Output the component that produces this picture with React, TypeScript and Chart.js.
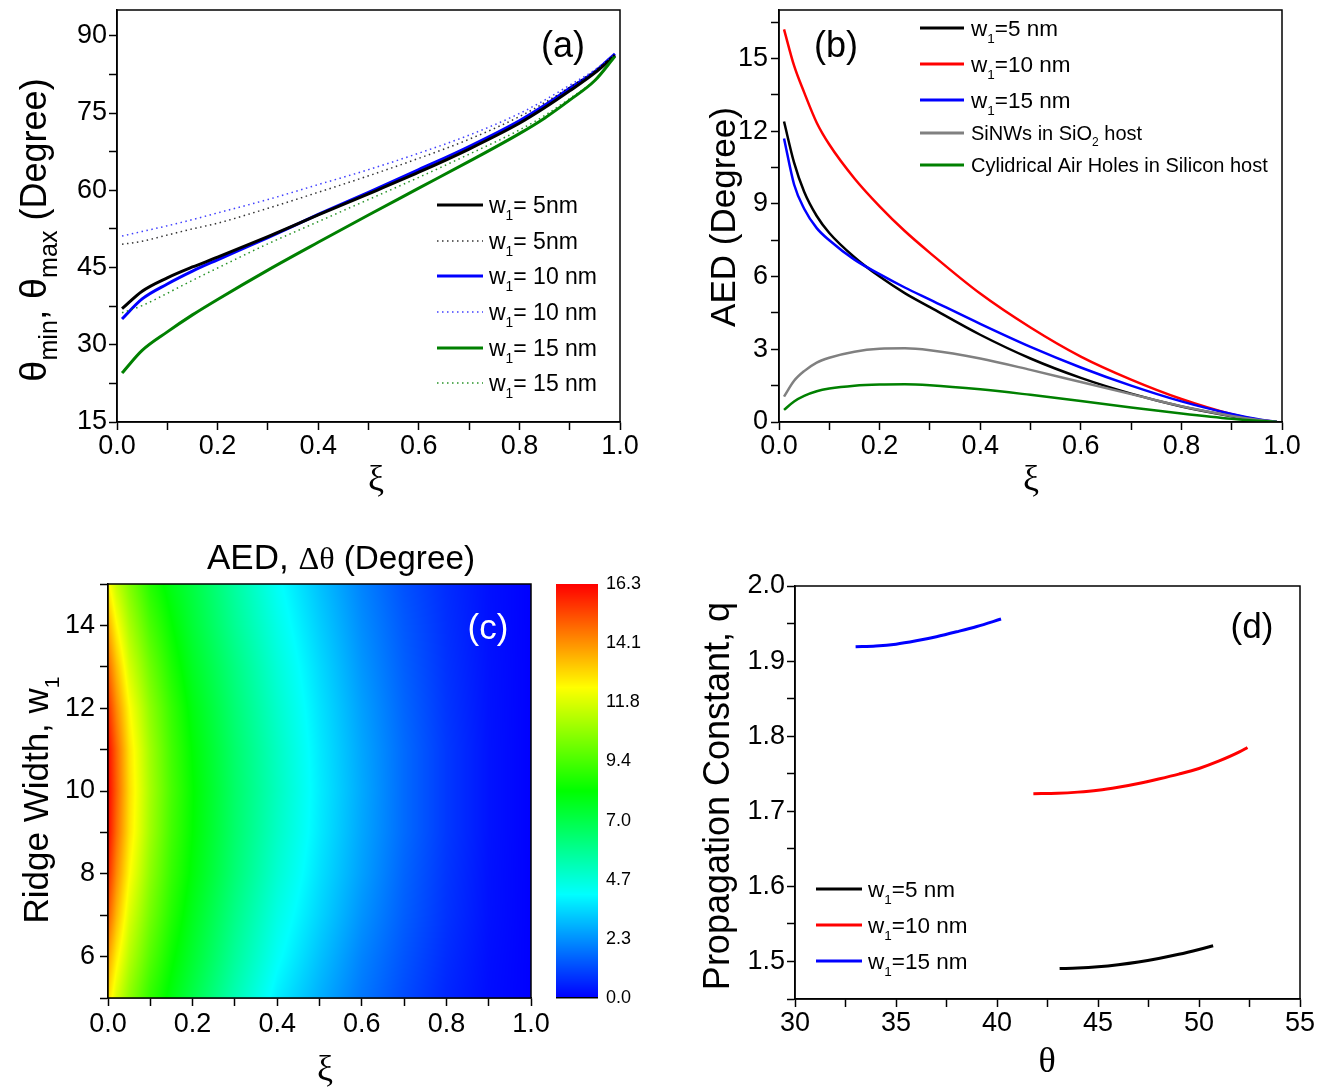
import React, { useEffect, useRef } from 'react';
import { Chart, registerables } from 'chart.js';

Chart.register(...registerables);

const SANS = '"Liberation Sans", Arial, Helvetica, sans-serif';
const SERIF = '"Liberation Serif", "Times New Roman", serif';

// ---------- (a) cut-off angles versus ξ ----------
const xiA = [0.01, 0.05, 0.1, 0.15, 0.2, 0.3, 0.4, 0.5, 0.6, 0.7, 0.8, 0.85, 0.9, 0.95, 0.99];
const thetaMinW5 = [37.0, 40.4, 43.0, 45.1, 47.0, 51.0, 55.2, 59.3, 63.5, 68.0, 73.0, 76.0, 79.3, 82.8, 86.2];
const thetaMaxW5 = [49.5, 50.1, 51.3, 52.5, 53.6, 56.5, 59.6, 62.8, 66.2, 69.9, 74.3, 77.0, 80.0, 83.2, 86.3];
const thetaMinW10 = [35.0, 38.9, 41.8, 44.3, 46.5, 50.8, 55.3, 59.6, 64.0, 68.5, 73.5, 76.5, 79.8, 83.0, 86.5];
const thetaMaxW10 = [51.1, 52.0, 53.1, 54.3, 55.6, 58.2, 61.1, 64.0, 67.2, 70.7, 74.9, 77.5, 80.4, 83.4, 86.5];
const thetaMinW15 = [24.5, 28.9, 32.5, 35.8, 38.8, 44.5, 49.9, 55.2, 60.4, 65.6, 71.0, 74.0, 77.5, 81.3, 86.0];
const thetaMaxW15 = [36.2, 37.6, 40.0, 42.5, 44.9, 49.6, 53.9, 58.2, 62.5, 67.0, 71.7, 74.5, 77.8, 81.4, 86.0];

// ---------- (b) angular extent versus ξ ----------
const xiB = [0.01, 0.03, 0.05, 0.075, 0.1, 0.15, 0.2, 0.25, 0.3, 0.4, 0.5, 0.6, 0.7, 0.8, 0.9, 0.95, 0.99];
const aedW5 = [12.4, 10.7, 9.5, 8.5, 7.8, 6.8, 6.0, 5.32, 4.74, 3.6, 2.62, 1.82, 1.17, 0.64, 0.24, 0.08, 0];
const aedW10 = [16.2, 14.7, 13.6, 12.35, 11.45, 10.05, 8.9, 7.88, 6.98, 5.3, 3.9, 2.7, 1.75, 0.95, 0.32, 0.1, 0];
const aedW15 = [11.7, 9.8, 8.8, 8.0, 7.5, 6.7, 6.1, 5.55, 5.05, 4.05, 3.1, 2.25, 1.5, 0.85, 0.33, 0.12, 0];
const aedSiNW = [1.05, 1.7, 2.1, 2.45, 2.65, 2.9, 3.02, 3.04, 2.96, 2.62, 2.15, 1.65, 1.15, 0.65, 0.25, 0.09, 0];
const aedAirHole = [0.5, 0.85, 1.08, 1.27, 1.38, 1.5, 1.55, 1.56, 1.52, 1.35, 1.12, 0.87, 0.6, 0.35, 0.13, 0.05, 0];

// ---------- (c) AED map over ξ and ridge width ----------
const mapXi = [0, 0.02, 0.05, 0.1, 0.15, 0.2, 0.3, 0.4, 0.5, 0.6, 0.7, 0.8, 0.9, 1.0];
const mapW = [5, 6, 7, 8, 9, 10, 11, 12, 13, 14, 15];
const mapAED = [
  [12.8, 11.6, 10.4, 8.9, 7.9, 7.0, 5.3, 3.8, 2.8, 1.9, 1.2, 0.6, 0.2, 0],
  [13.8, 12.5, 11.1, 9.5, 8.3, 7.4, 5.7, 4.2, 3.1, 2.1, 1.35, 0.7, 0.23, 0],
  [14.9, 13.4, 11.7, 10.0, 8.7, 7.7, 6.0, 4.5, 3.4, 2.35, 1.5, 0.8, 0.27, 0],
  [15.7, 14.1, 12.3, 10.4, 9.0, 8.0, 6.3, 4.8, 3.6, 2.55, 1.6, 0.85, 0.28, 0],
  [16.2, 14.6, 12.7, 10.7, 9.2, 8.15, 6.45, 5.0, 3.75, 2.65, 1.7, 0.9, 0.3, 0],
  [16.3, 14.8, 12.8, 10.8, 9.3, 8.2, 6.5, 5.1, 3.8, 2.7, 1.7, 0.9, 0.3, 0],
  [16.2, 14.7, 12.7, 10.7, 9.2, 8.1, 6.45, 5.05, 3.75, 2.65, 1.7, 0.9, 0.3, 0],
  [15.6, 14.1, 12.3, 10.4, 9.0, 7.9, 6.3, 4.9, 3.65, 2.55, 1.62, 0.85, 0.29, 0],
  [14.7, 13.3, 11.6, 9.9, 8.6, 7.6, 6.1, 4.7, 3.5, 2.4, 1.52, 0.8, 0.28, 0],
  [13.6, 12.3, 10.9, 9.3, 8.2, 7.3, 5.8, 4.45, 3.3, 2.25, 1.42, 0.75, 0.26, 0],
  [12.4, 11.3, 10.2, 8.7, 7.8, 7.1, 5.6, 4.2, 3.1, 2.1, 1.3, 0.7, 0.25, 0],
];
const barLabels = ['0.0', '2.3', '4.7', '7.0', '9.4', '11.8', '14.1', '16.3'];
const barMax = 16.3;
const paletteRGB = [
  [0, 0, 255],
  [0, 255, 255],
  [0, 255, 0],
  [255, 255, 0],
  [255, 0, 0],
];

// ---------- (d) propagation constant versus θ ----------
const thetaW5 = [43.1, 44, 45, 46, 47, 48, 49, 50, 50.7];
const qW5 = [1.4905, 1.4913, 1.493, 1.4957, 1.4993, 1.504, 1.5095, 1.516, 1.521];
const thetaW10 = [41.8, 43, 44, 45, 46, 47, 48, 49, 50, 51, 52, 52.4];
const qW10 = [1.7235, 1.724, 1.7255, 1.728, 1.732, 1.737, 1.743, 1.7495, 1.757, 1.767, 1.779, 1.785];
const thetaW15 = [33.0, 34, 35, 36, 37, 38, 39, 40.2];
const qW15 = [1.919, 1.92, 1.9225, 1.927, 1.9325, 1.939, 1.946, 1.956];

const BLACK = '#000000';
const RED = '#ff0000';
const BLUE = '#0000ff';
const GREEN = '#008000';
const GRAY = '#808080';
const TICK_SIZE = 27;

// ---------- text helpers ----------
type Seg = { t: string; sub?: boolean; serif?: boolean; scale?: number };

function segFont(s: Seg, size: number, subScale: number) {
  const sz = s.sub ? size * subScale : size * (s.scale ?? 1);
  return `${sz}px ${s.serif ? SERIF : SANS}`;
}

function richText(
  ctx: CanvasRenderingContext2D,
  segs: Seg[],
  x: number,
  y: number,
  size: number,
  align: 'left' | 'center' = 'left',
  subScale = 0.6
) {
  ctx.save();
  ctx.textAlign = 'left';
  ctx.textBaseline = 'alphabetic';
  const widths = segs.map((s) => {
    ctx.font = segFont(s, size, subScale);
    return ctx.measureText(s.t).width;
  });
  const total = widths.reduce((a, b) => a + b, 0);
  let cx = align === 'center' ? x - total / 2 : x;
  segs.forEach((s, i) => {
    ctx.font = segFont(s, size, subScale);
    ctx.fillText(s.t, cx, s.sub ? y + size * 0.3 : y);
    cx += widths[i];
  });
  ctx.restore();
}

function rotatedText(ctx: CanvasRenderingContext2D, segs: Seg[], baselineX: number, centerY: number, size: number, subScale = 0.6) {
  ctx.save();
  ctx.translate(baselineX, centerY);
  ctx.rotate(-Math.PI / 2);
  richText(ctx, segs, 0, 0, size, 'center', subScale);
  ctx.restore();
}

type LegendItem = { segs: Seg[]; color: string; width: number; dash?: number[]; size: number };

function drawLegend(ctx: CanvasRenderingContext2D, items: LegendItem[], x0: number, x1: number, tx: number, ys: number[]) {
  items.forEach((it, i) => {
    const y = ys[i];
    ctx.save();
    ctx.strokeStyle = it.color;
    ctx.lineWidth = it.width;
    ctx.setLineDash(it.dash ?? []);
    ctx.beginPath();
    ctx.moveTo(x0, y);
    ctx.lineTo(x1, y);
    ctx.stroke();
    ctx.restore();
    ctx.fillStyle = '#000';
    richText(ctx, it.segs, tx, y + it.size * 0.36, it.size);
  });
}

const w1 = (rest: string): Seg[] => [{ t: 'w' }, { t: '1', sub: true }, { t: rest }];

// ---------- chart helpers ----------
const pts = (xs: number[], ys: number[]) => xs.map((x, i) => ({ x, y: ys[i] }));

function lineSet(xs: number[], ys: number[], color: string, width: number, dash?: number[]) {
  return {
    data: pts(xs, ys),
    showLine: true,
    borderColor: color,
    backgroundColor: color,
    borderWidth: width,
    borderDash: dash ?? [],
    pointRadius: 0,
    cubicInterpolationMode: 'monotone' as const,
    fill: false,
  };
}

type AxisOpts = {
  min: number;
  max: number;
  step: number;
  every: number;
  digits: number;
  pad: number;
  fit: number;
  vertical: boolean;
  size?: number;
};

function linearAxis(o: AxisOpts) {
  return {
    type: 'linear' as const,
    position: o.vertical ? ('left' as const) : ('bottom' as const),
    min: o.min,
    max: o.max,
    afterFit: (s: any) => {
      if (o.vertical) s.width = o.fit;
      else s.height = o.fit;
      s.paddingTop = 0;
      s.paddingBottom = 0;
      s.paddingLeft = 0;
      s.paddingRight = 0;
    },
    ticks: {
      stepSize: o.step,
      autoSkip: false,
      maxRotation: 0,
      minRotation: 0,
      includeBounds: false,
      padding: o.pad,
      color: '#000',
      font: { family: SANS, size: o.size ?? TICK_SIZE, lineHeight: 1.2 },
      callback: (v: any) => {
        const k = Number(v) / o.every;
        return Math.abs(k - Math.round(k)) < 1e-6 ? Number(v).toFixed(o.digits) : '';
      },
    },
    grid: { display: true, drawOnChartArea: false, drawTicks: true, tickLength: 8, tickWidth: 1.5, tickColor: '#000' },
    border: { display: true, color: '#000', width: 1.5 },
  };
}

function overlay(id: string, draw: (ctx: CanvasRenderingContext2D, chart: any) => void) {
  return {
    id,
    afterDraw(chart: any) {
      const { ctx, chartArea: a } = chart;
      ctx.save();
      ctx.strokeStyle = '#000';
      ctx.lineWidth = 1.5;
      ctx.strokeRect(a.left, a.top, a.right - a.left, a.bottom - a.top);
      ctx.restore();
      draw(ctx, chart);
    },
  };
}

const baseOptions = (padding: any) => ({
  animation: false as const,
  responsive: false,
  maintainAspectRatio: false,
  events: [] as any[],
  layout: { padding },
  plugins: { legend: { display: false }, tooltip: { enabled: false } },
});

// ---------- (c) colour map ----------
function rainbow(v: number): number[] {
  const t = Math.max(0, Math.min(1, v / barMax)) * (paletteRGB.length - 1);
  const i = Math.min(Math.floor(t), paletteRGB.length - 2);
  const f = t - i;
  const a = paletteRGB[i];
  const b = paletteRGB[i + 1];
  return [a[0] + (b[0] - a[0]) * f, a[1] + (b[1] - a[1]) * f, a[2] + (b[2] - a[2]) * f];
}

function bracket(arr: number[], v: number) {
  let i = 0;
  while (i < arr.length - 2 && v > arr[i + 1]) i++;
  const t = Math.max(0, Math.min(1, (v - arr[i]) / (arr[i + 1] - arr[i])));
  return [i, t];
}

function mapValue(xi: number, w: number) {
  const [i, tx] = bracket(mapXi, xi);
  const [j, ty] = bracket(mapW, w);
  const a = mapAED[j][i] * (1 - tx) + mapAED[j][i + 1] * tx;
  const b = mapAED[j + 1][i] * (1 - tx) + mapAED[j + 1][i + 1] * tx;
  return a * (1 - ty) + b * ty;
}

const heatmapPlugin = {
  id: 'aedMap',
  beforeDatasetsDraw(chart: any) {
    const { ctx, chartArea: a, scales } = chart;
    const w = Math.round(a.right - a.left);
    const h = Math.round(a.bottom - a.top);
    const off = document.createElement('canvas');
    off.width = w;
    off.height = h;
    const octx = off.getContext('2d')!;
    const img = octx.createImageData(w, h);
    for (let py = 0; py < h; py++) {
      const wv = scales.y.getValueForPixel(a.top + py + 0.5);
      for (let px = 0; px < w; px++) {
        const xv = scales.x.getValueForPixel(a.left + px + 0.5);
        const c = rainbow(mapValue(xv, wv));
        const k = (py * w + px) * 4;
        img.data[k] = c[0];
        img.data[k + 1] = c[1];
        img.data[k + 2] = c[2];
        img.data[k + 3] = 255;
      }
    }
    octx.putImageData(img, 0, 0);
    ctx.drawImage(off, a.left, a.top);
  },
};

// ---------- configurations ----------
const DOT = [1.5, 3.5];
const DOT_BLACK = 'rgba(0,0,0,0.8)';
const DOT_BLUE = 'rgba(30,30,255,0.85)';
const DOT_GREEN = 'rgba(0,128,0,0.85)';

function configA(): any {
  return {
    type: 'scatter',
    data: {
      datasets: [
        lineSet(xiA, thetaMaxW5, DOT_BLACK, 1.5, DOT),
        lineSet(xiA, thetaMaxW10, DOT_BLUE, 1.5, DOT),
        lineSet(xiA, thetaMaxW15, DOT_GREEN, 1.5, DOT),
        lineSet(xiA, thetaMinW15, GREEN, 3),
        lineSet(xiA, thetaMinW5, BLACK, 3),
        lineSet(xiA, thetaMinW10, BLUE, 3),
      ],
    },
    options: {
      ...baseOptions({ left: 0, top: 10, right: 40, bottom: 0 }),
      scales: {
        x: linearAxis({ min: 0, max: 1, step: 0.1, every: 0.2, digits: 1, pad: 0, fit: 78, vertical: false }),
        y: linearAxis({ min: 15, max: 95, step: 7.5, every: 15, digits: 0, pad: 2, fit: 117, vertical: true }),
      },
    },
    plugins: [
      overlay('panelA', (ctx) => {
        ctx.fillStyle = '#000';
        rotatedText(
          ctx,
          [{ t: 'θ', scale: 1.05 }, { t: 'min', sub: true }, { t: ', θ', scale: 1.05 }, { t: 'max', sub: true }, { t: ' (Degree)' }],
          46,
          230,
          36,
          0.7
        );
        richText(ctx, [{ t: 'ξ', serif: true }], 376, 490, 36, 'center');
        richText(ctx, [{ t: '(a)' }], 563, 57, 36, 'center');
        drawLegend(
          ctx,
          [
            { segs: w1('= 5nm'), color: BLACK, width: 3, size: 23 },
            { segs: w1('= 5nm'), color: DOT_BLACK, width: 1.5, dash: DOT, size: 23 },
            { segs: w1('= 10 nm'), color: BLUE, width: 3, size: 23 },
            { segs: w1('= 10 nm'), color: DOT_BLUE, width: 1.5, dash: DOT, size: 23 },
            { segs: w1('= 15 nm'), color: GREEN, width: 3, size: 23 },
            { segs: w1('= 15 nm'), color: DOT_GREEN, width: 1.5, dash: DOT, size: 23 },
          ],
          437,
          483,
          489,
          [205, 241, 276, 312, 348, 383]
        );
      }),
    ],
  };
}

function configB(): any {
  return {
    type: 'scatter',
    data: {
      datasets: [
        lineSet(xiB, aedAirHole, GREEN, 2.5),
        lineSet(xiB, aedSiNW, GRAY, 2.5),
        lineSet(xiB, aedW15, BLUE, 2.5),
        lineSet(xiB, aedW10, RED, 2.5),
        lineSet(xiB, aedW5, BLACK, 2.5),
      ],
    },
    options: {
      ...baseOptions({ left: 0, top: 10, right: 43, bottom: 0 }),
      scales: {
        x: linearAxis({ min: 0, max: 1, step: 0.1, every: 0.2, digits: 1, pad: 0, fit: 78, vertical: false }),
        y: linearAxis({ min: 0, max: 17, step: 1.5, every: 3, digits: 0, pad: 3, fit: 119, vertical: true }),
      },
    },
    plugins: [
      overlay('panelB', (ctx) => {
        ctx.fillStyle = '#000';
        rotatedText(ctx, [{ t: 'AED (Degree)' }], 75, 217, 35);
        richText(ctx, [{ t: 'ξ', serif: true }], 371, 490, 36, 'center');
        richText(ctx, [{ t: '(b)' }], 176, 57, 36, 'center');
        drawLegend(
          ctx,
          [
            { segs: w1('=5 nm'), color: BLACK, width: 3, size: 22.5 },
            { segs: w1('=10 nm'), color: RED, width: 3, size: 22.5 },
            { segs: w1('=15 nm'), color: BLUE, width: 3, size: 22.5 },
            { segs: [{ t: 'SiNWs in SiO' }, { t: '2', sub: true }, { t: ' host' }], color: GRAY, width: 3, size: 20 },
            { segs: [{ t: 'Cylidrical Air Holes in Silicon host' }], color: GREEN, width: 3, size: 20 },
          ],
          260,
          304,
          311,
          [28, 64, 100, 133, 165]
        );
      }),
    ],
  };
}

function configC(): any {
  const n = barLabels.length - 1;
  return {
    type: 'scatter',
    data: { datasets: [{ data: [] as any[], pointRadius: 0 }] },
    options: {
      ...baseOptions({ left: 0, top: 64, right: 0, bottom: 0 }),
      scales: {
        x: linearAxis({ min: 0, max: 1, step: 0.1, every: 0.2, digits: 1, pad: 2, fit: 91, vertical: false }),
        y: linearAxis({ min: 5, max: 15, step: 1, every: 2, digits: 0, pad: 5, fit: 108, vertical: true }),
        cb: {
          type: 'linear',
          position: 'right',
          min: 0,
          max: barMax,
          afterBuildTicks: (s: any) => {
            s.ticks = barLabels.map((_, i) => ({ value: (i * barMax) / n }));
          },
          afterFit: (s: any) => {
            s.width = 129;
            s.paddingTop = 0;
            s.paddingBottom = 0;
          },
          ticks: {
            padding: 75,
            color: '#000',
            font: { family: SANS, size: 18 },
            callback: (_v: any, i: number) => barLabels[i],
          },
          grid: { display: false, drawTicks: false },
          border: { display: false },
        },
      },
    },
    plugins: [
      heatmapPlugin,
      overlay('panelC', (ctx, chart) => {
        const cb = chart.scales.cb;
        const top = Math.round(cb.getPixelForValue(barMax));
        const bottom = Math.round(cb.getPixelForValue(0));
        for (let y = top; y < bottom; y++) {
          const c = rainbow(cb.getValueForPixel(y + 0.5));
          ctx.fillStyle = `rgb(${c[0] | 0},${c[1] | 0},${c[2] | 0})`;
          ctx.fillRect(556, y, 42, 1);
        }
        ctx.fillStyle = '#000';
        ctx.fillRect(556, bottom - 1, 42, 1.5);

        ctx.fillStyle = '#000';
        richText(
          ctx,
          [{ t: 'AED, ' }, { t: 'Δθ', serif: true, scale: 0.92 }, { t: ' (Degree)', scale: 0.95 }],
          341,
          49,
          35,
          'center'
        );
        rotatedText(ctx, [{ t: 'Ridge Width, w' }, { t: '1', sub: true }], 48, 280, 35);
        richText(ctx, [{ t: 'ξ', serif: true }], 325, 560, 36, 'center');
        ctx.fillStyle = '#ffffff';
        richText(ctx, [{ t: '(c)' }], 488, 119, 35, 'center');
      }),
    ],
  };
}

function configD(): any {
  return {
    type: 'scatter',
    data: {
      datasets: [
        lineSet(thetaW5, qW5, BLACK, 3),
        lineSet(thetaW10, qW10, RED, 3),
        lineSet(thetaW15, qW15, BLUE, 3),
      ],
    },
    options: {
      ...baseOptions({ left: 0, top: 66, right: 25, bottom: 0 }),
      scales: {
        x: linearAxis({ min: 30, max: 55, step: 2.5, every: 5, digits: 0, pad: 0, fit: 90, vertical: false }),
        y: linearAxis({ min: 1.45, max: 2.0, step: 0.05, every: 0.1, digits: 1, pad: 2, fit: 135, vertical: true }),
      },
    },
    plugins: [
      overlay('panelD', (ctx) => {
        ctx.fillStyle = '#000';
        rotatedText(ctx, [{ t: 'Propagation Constant, q' }], 69, 276, 36);
        richText(ctx, [{ t: 'θ', serif: true }], 387, 552, 36, 'center');
        richText(ctx, [{ t: '(d)' }], 592, 118, 35, 'center');
        drawLegend(
          ctx,
          [
            { segs: w1('=5 nm'), color: BLACK, width: 3, size: 22.5 },
            { segs: w1('=10 nm'), color: RED, width: 3, size: 22.5 },
            { segs: w1('=15 nm'), color: BLUE, width: 3, size: 22.5 },
          ],
          156,
          202,
          208,
          [369, 405, 441]
        );
      }),
    ],
  };
}

export default function App() {
  const aRef = useRef<HTMLCanvasElement>(null);
  const bRef = useRef<HTMLCanvasElement>(null);
  const cRef = useRef<HTMLCanvasElement>(null);
  const dRef = useRef<HTMLCanvasElement>(null);

  useEffect(() => {
    const charts = [
      new Chart(aRef.current!, configA()),
      new Chart(bRef.current!, configB()),
      new Chart(cRef.current!, configC()),
      new Chart(dRef.current!, configD()),
    ];
    return () => charts.forEach((c) => c.destroy());
  }, []);

  const place = (left: number, top: number, w: number, h: number): React.CSSProperties => ({
    position: 'absolute',
    left,
    top,
    width: w,
    height: h,
  });

  return (
    <div style={{ position: 'absolute', left: 0, top: 0, width: 1325, height: 1089, background: '#ffffff', overflow: 'hidden' }}>
      <canvas ref={aRef} width={660} height={500} style={place(0, 0, 660, 500)} />
      <canvas ref={bRef} width={665} height={500} style={place(660, 0, 665, 500)} />
      <canvas ref={cRef} width={660} height={569} style={place(0, 520, 660, 569)} />
      <canvas ref={dRef} width={665} height={569} style={place(660, 520, 665, 569)} />
    </div>
  );
}
